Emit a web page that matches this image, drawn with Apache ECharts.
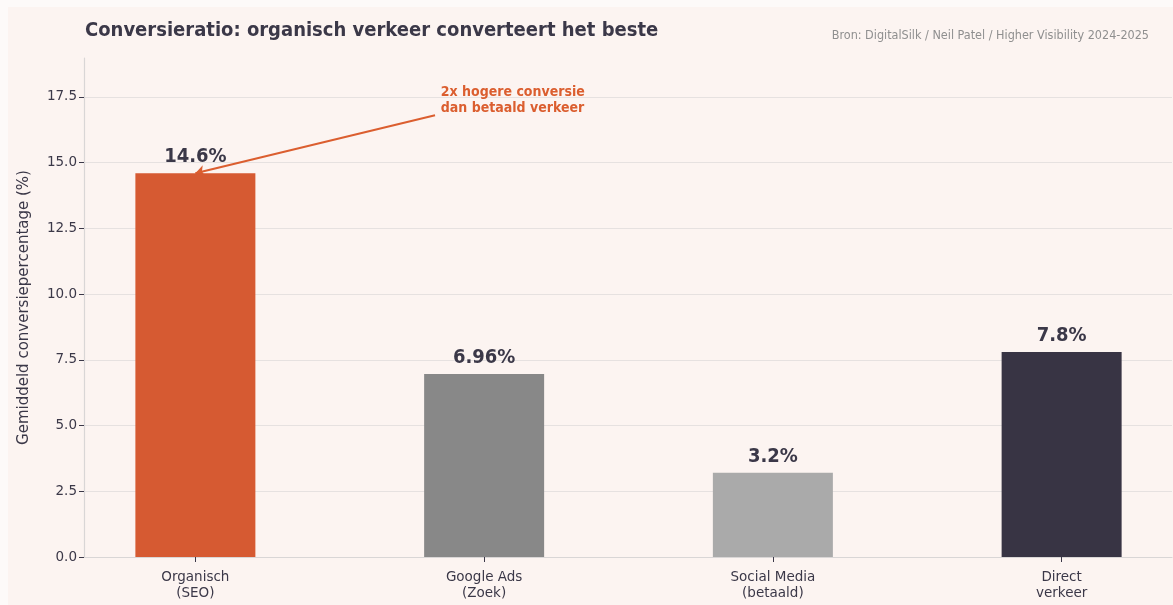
<!DOCTYPE html>
<html>
<head>
<meta charset="utf-8">
<script src="https://cdn.jsdelivr.net/npm/echarts@6/dist/echarts.min.js"></script>
<style>
  html, body { margin: 0; padding: 0; background: #fdfaf9; }
  #chart { width: 1173px; height: 605px; }
</style>
</head>
<body>
<div id="chart"></div>
<script>
// data
var categories = ["Organisch\n(SEO)", "Google Ads\n(Zoek)", "Social Media\n(betaald)", "Direct\nverkeer"];
var conversion = [14.6, 6.96, 3.2, 7.8];
var barColors = ["#d65a32", "#888888", "#aaaaaa", "#383444"];
var yTicks = [0, 2.5, 5, 7.5, 10, 12.5, 15, 17.5];
var yMax = 14.6 * 1.3;
// annotation: arrow from text to bar top
var arrowFrom = [0.83, 16.8];
var arrowTo = [0, 14.6];
var noteAt = [0.85, 16.76];
var noteText = "2x hogere conversie\ndan betaald verkeer";

var chart = echarts.init(document.getElementById("chart"));

var textDark = "#3b3848";
var orange = "#db5e2f";
var condensed = "DejaVu Sans Condensed, DejaVu Sans";

var plotTop = 58, plotBottom = 48;
var plotH = 605 - plotTop - plotBottom;
// tick grid top sits where the last tick value falls
var tickTop = plotTop + plotH * (1 - yTicks[yTicks.length - 1] / yMax);

var option = {
  backgroundColor: "#fdfaf9",
  graphic: [{
    type: "rect", z: -100, left: 8, top: 7,
    shape: { width: 1165, height: 598 },
    style: { fill: "#fcf4f1" }
  }],
  title: [{
    text: "Conversieratio: organisch verkeer converteert het beste",
    left: 80, top: 16,
    textStyle: { fontFamily: condensed, fontSize: 20, fontWeight: "bold", color: textDark }
  }, {
    text: "Bron: DigitalSilk / Neil Patel / Higher Visibility 2024-2025",
    right: 19, top: 24,
    textStyle: { fontFamily: condensed, fontSize: 12.5, fontWeight: "normal", color: "#8f8f8f" }
  }],
  grid: [
    // bars
    { left: 51, right: -33, top: plotTop, bottom: plotBottom, containLabel: false, outerBoundsMode: "none" },
    // ticks, labels, gridlines, bottom spine
    { left: 84, right: 1, top: tickTop, bottom: plotBottom, containLabel: false, outerBoundsMode: "none" }
  ],
  xAxis: [{
    type: "category", gridIndex: 0, data: categories,
    axisLine: { show: false },
    axisTick: { show: true, alignWithLabel: true, length: 5, lineStyle: { color: textDark } },
    axisLabel: { color: textDark, fontFamily: "DejaVu Sans", fontSize: 13.5, lineHeight: 16, margin: 12 },
    splitLine: { show: false }
  }, {
    type: "value", gridIndex: 1, min: 0, max: 1,
    axisLine: { show: true, lineStyle: { color: "#d9d6d6", width: 1.2 } },
    axisTick: { show: false }, axisLabel: { show: false }, splitLine: { show: false }
  }, {
    type: "value", gridIndex: 0, min: -0.5, max: 3.5, show: false
  }],
  yAxis: [{
    type: "value", gridIndex: 0, min: 0, max: yMax, offset: -33,
    name: "Gemiddeld conversiepercentage (%)",
    nameLocation: "middle", nameGap: 52,
    nameTextStyle: { color: textDark, fontFamily: "DejaVu Sans", fontSize: 15 },
    axisLine: { show: true, onZero: false, lineStyle: { color: "#d9d6d6", width: 1.2 } },
    axisTick: { show: false }, axisLabel: { show: false }, splitLine: { show: false }
  }, {
    type: "value", gridIndex: 1, min: 0, max: yTicks[yTicks.length - 1], interval: 2.5,
    axisLine: { show: false },
    axisTick: { show: true, length: 5, lineStyle: { color: textDark } },
    axisLabel: {
      color: textDark, fontFamily: "DejaVu Sans", fontSize: 13.5, margin: 7,
      formatter: function (v) { return v.toFixed(1); }
    },
    splitLine: { show: true, lineStyle: { color: "#e6e1e0", width: 1 } }
  }],
  series: [{
    type: "bar",
    xAxisIndex: 0, yAxisIndex: 0,
    barWidth: 120,
    data: conversion.map(function (v, i) {
      return { value: v, itemStyle: { color: barColors[i] } };
    }),
    label: {
      show: true, position: "top", distance: 6,
      formatter: "{c}%",
      fontFamily: condensed, fontSize: 20, fontWeight: "bold", color: textDark
    },
    silent: true
  }, {
    type: "lines",
    coordinateSystem: "cartesian2d",
    xAxisIndex: 2, yAxisIndex: 0,
    symbol: ["none", "arrow"], symbolSize: 9,
    lineStyle: { color: orange, width: 2, opacity: 1 },
    data: [{ coords: [arrowFrom, arrowTo] }],
    silent: true
  }, {
    type: "scatter",
    xAxisIndex: 2, yAxisIndex: 0,
    symbolSize: 0,
    itemStyle: { opacity: 1 },
    data: [noteAt],
    label: {
      show: true, position: [0, 0], align: "left", verticalAlign: "bottom",
      formatter: noteText, lineHeight: 16, opacity: 1,
      fontFamily: condensed, fontSize: 14, fontWeight: "bold", color: orange
    },
    silent: true
  }]
};

chart.setOption(option);
</script>
</body>
</html>
